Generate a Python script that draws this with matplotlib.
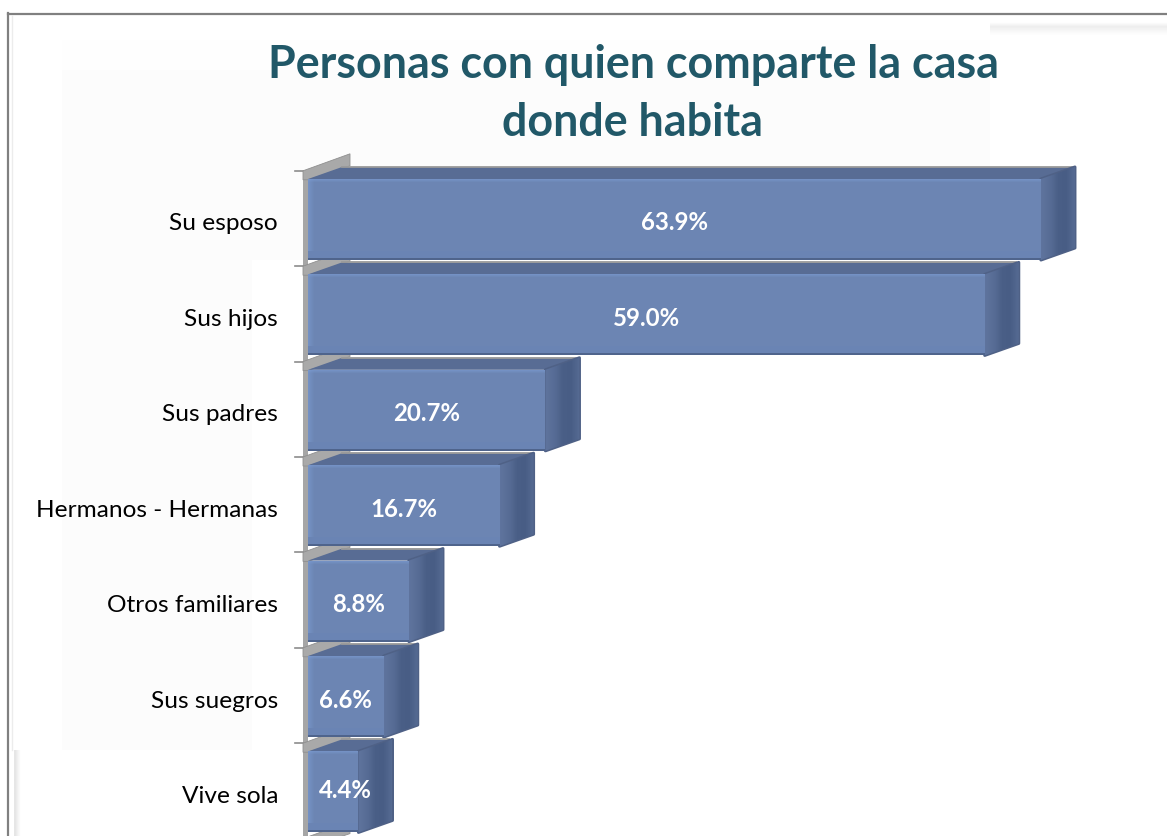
import numpy as np
import matplotlib.pyplot as plt
from matplotlib.colors import LinearSegmentedColormap
from matplotlib.patches import Polygon, Rectangle
from matplotlib.lines import Line2D

categorias = ["Su esposo", "Sus hijos", "Sus padres", "Hermanos - Hermanas",
              "Otros familiares", "Sus suegros", "Vive sola"]
valores = [63.9, 59.0, 20.7, 16.7, 8.8, 6.6, 4.4]
titulo = "Personas con quien comparte la casa\ndonde habita"

W, H = 1167, 836
plt.rcParams['font.family'] = ['Lato', 'DejaVu Sans']

fig = plt.figure(figsize=(W / 100, H / 100), dpi=100, facecolor='white')

# capa de fondo en pixeles (marco y sombras claras)
bg = fig.add_axes([0, 0, 1, 1], zorder=0)
bg.set_xlim(0, W)
bg.set_ylim(H, 0)
bg.axis('off')
bg.add_patch(Rectangle((62, 70), 928, 680, fc='#fcfcfc', ec='none'))
bg.add_patch(Rectangle((62, 40), 928, 30, fc='#fefefe', ec='none'))
bg.add_patch(Rectangle((252, 260), 915, 576, fc='white', ec='none'))
bg.imshow([[1.0], [0.93], [0.97], [1.0]], cmap='gray', vmin=0, vmax=1, extent=(990, 1167, 38, 20),
          aspect='auto', zorder=1, interpolation='bilinear')
bg.imshow([[0.90, 0.95, 1.0]], cmap='gray', vmin=0, vmax=1, extent=(14, 22, 836, 750),
          aspect='auto', zorder=1, interpolation='bilinear')
bg.set_xlim(0, W)
bg.set_ylim(H, 0)
bg.plot([11.5, 11.5], [16, 750], color='#ececec', lw=1)
bg.plot([8, 1167], [13.5, 13.5], color='#808080', lw=1.6)
bg.plot([8, 8], [13, 836], color='#808080', lw=1.6)

# eje de datos: 11.47 px por punto porcentual, 95.4 px por categoria
PX_X = 11.47
PX_Y = 95.4
ax = fig.add_axes([308 / W, 0, (W - 308) / W, 1], zorder=1)
xlim = (0, (W - 308) / PX_X)
ylim = ((H - 219.5) / PX_Y, -219.5 / PX_Y)
ax.axis('off')
ax.patch.set_alpha(0)

DX = 34 / PX_X   # profundidad 3D
DY = 12 / PX_Y
ALTO = 81 / PX_Y
n = len(valores)
px = 1 / PX_X
py = 1 / PX_Y

cmap_lado = LinearSegmentedColormap.from_list(
    "lado", [(0, '#5f749e'), (0.3, '#566b94'), (0.5, '#4a5f87'), (0.75, '#485d85'), (1, '#566b93')])
gradiente = np.linspace(0, 1, 64).reshape(1, -1)

# pared gris y marcas del eje
y_top = -ALTO / 2
ax.add_patch(Rectangle((-5 * px, y_top - 5 * py), 5 * px, n + 1, fc='#a6a6a6', ec='none', zorder=1, clip_on=False))
for i in range(n + 1):
    y0 = i - 0.5 - 1 * py
    ax.add_line(Line2D([-13 * px, -5 * px], [y0, y0], color='#8c8c8c', lw=1.2, clip_on=False, zorder=1))
    cuna = [(-5 * px, y0), (DX + 8 * px, y0 - 17 * py), (DX + 8 * px, y0 - 5 * py), (0, y0 + 9 * py), (-5 * px, y0 + 9 * py)]
    ax.add_patch(Polygon(cuna, fc='#a9a9a9', ec='#8f8f8f', lw=0.6, clip_on=False, zorder=1))

for i, v in enumerate(valores):
    y0, y1 = i - ALTO / 2, i + ALTO / 2
    # cara superior y lateral
    ax.add_patch(Polygon([(0, y0), (DX, y0 - DY), (v + DX, y0 - DY), (v, y0)],
                         fc='#586c94', ec='none', zorder=2))
    ax.add_line(Line2D([DX, v + DX - 3 * px], [y0 - DY, y0 - DY], color='#9a9a9a', lw=1.3, zorder=2))
    lado = Polygon([(v, y0), (v + DX, y0 - DY), (v + DX, y1 - DY), (v, y1)],
                   fc='#4a5f87', ec='#4f6186', lw=2.2, joinstyle='round', zorder=2)
    ax.add_patch(lado)
    im = ax.imshow(gradiente, cmap=cmap_lado, extent=(v, v + DX, y1, y0 - DY), aspect='auto',
                   zorder=2.1, interpolation='bilinear')
    im.set_clip_path(lado)

barras = ax.barh(range(n), valores, height=ALTO, color='#6c85b3', edgecolor='none', zorder=3)
for b in barras:
    x0, y0, w, h = b.get_x(), b.get_y(), b.get_width(), b.get_height()
    # biseles de la cara frontal
    for k in range(6):
        ax.add_patch(Rectangle((x0 + k * px, y0), px, h, fc='#7a9ad0', alpha=0.6 - 0.1 * k, ec='none', zorder=4))
    for k in range(3):
        ax.add_patch(Rectangle((x0, y0 + k * py), w, py, fc='#7a9ad0', alpha=0.6 - 0.2 * k, ec='none', zorder=4))
    ax.add_patch(Rectangle((x0, y0 + h - 9 * py), w, 7 * py, fc='#6a84b4', ec='none', zorder=4))
    ax.add_patch(Rectangle((x0, y0 + h - 2 * py), w, 2 * py, fc='#4f648c', ec='none', zorder=4))

for i, v in enumerate(valores):
    # la etiqueta de las barras cortas no baja del ancho minimo
    x_txt = max(v / 2, 3.3)
    y_txt = i + 3.5 * py if v > 5 else i - py
    ax.text(x_txt, y_txt, f"{v:.1f}%", color='white', fontsize=17.3, fontweight='bold',
            ha='center', va='center', zorder=5)
    ax.text(-30 * px, i + 4.5 * py, categorias[i], color='black', fontsize=17.6,
            ha='right', va='center', zorder=5, clip_on=False)

ax.set_xlim(xlim)
ax.set_ylim(ylim)

fig.text(633 / W, 1 - 94 / H, titulo, color='#215868', fontsize=32.3, fontweight='bold',
         ha='center', va='center', linespacing=1.5)

fig.savefig("out.png", dpi=100)
